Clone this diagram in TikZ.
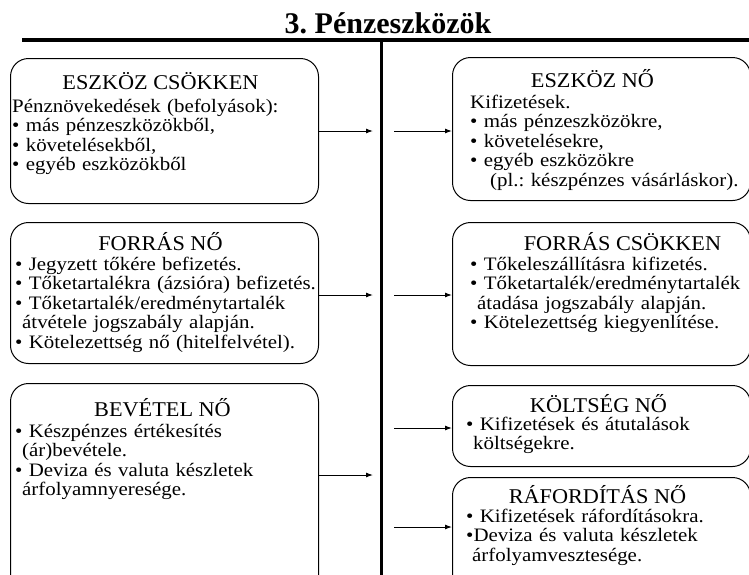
\documentclass[tikz,border=0pt]{standalone}
\usepackage{fontspec}
\setmainfont{Liberation Serif}
\newfontfamily\torzsfont{Liberation Serif}[FakeStretch=1.1]
\newfontfamily\fejfont{Liberation Serif}[FakeStretch=1.06]
\usetikzlibrary{positioning,arrows.meta}
\frenchspacing
\tikzset{keret/.style={draw, rounded corners=18pt, line width=1pt, anchor=north west, inner sep=0pt},
  fejlec/.style={anchor=base, inner sep=0pt, font=\fejfont\fontsize{21}{24}\selectfont},
  torzs/.style={inner sep=0pt, align=left, text width=330pt, font=\torzsfont\fontsize{19}{19.5}\selectfont},
  nyil/.style={-{Latex[length=7pt,width=5pt]}, line width=1pt},}

\begin{document}
\begin{tikzpicture}[x=1pt,y=-1pt]
        \useasboundingbox (0,0) rectangle (749,574);
        \clip (0,0) rectangle (749,574);
        % Title and rules
        \node[anchor=base, inner sep=0pt, font=\bfseries\fontsize{30}{36}\selectfont] (cim) at (388,33) {3. Pénzeszközök};
        \coordinate (felso bal) at (22,40);
        \coordinate (felso jobb) at (749,40);
        \coordinate (also) at (381,580);
        \draw[line width=3.5pt] (felso bal) -- (felso jobb);
        \draw[line width=3pt] (also |- felso bal) -- (also);
        % Left boxes
        \node[keret, minimum width=308pt, minimum height=145pt] (eszkcsokk) at (10,58) {};
        \node[keret, minimum width=308pt, minimum height=141pt] (forrno) at (10,222) {};
        \node[keret, minimum width=308pt, minimum height=220pt] (bevno) at (10,383) {};
        % Right boxes
        \node[keret, minimum width=298pt, minimum height=143pt] (eszkno) at (452,57) {};
        \node[keret, minimum width=298pt, minimum height=143pt] (forrcsokk) at (452,222) {};
        \node[keret, minimum width=298pt, minimum height=81pt] (koltno) at (452,385) {};
        \node[keret, minimum width=298pt, minimum height=130pt] (raforno) at (452,477) {};
        % Headings
        \node[fejlec] (h1) at ([xshift=-4pt,yshift=-31pt]eszkcsokk.north) {ESZKÖZ CSÖKKEN};
        \node[fejlec] (h2) at ([xshift=-4pt,yshift=-28pt]forrno.north) {FORRÁS NŐ};
        \node[fejlec] (h3) at ([xshift=-2pt,yshift=-33pt]bevno.north) {BEVÉTEL NŐ};
        \node[fejlec] (h4) at ([xshift=-9pt,yshift=-30pt]eszkno.north) {ESZKÖZ NŐ};
        \node[fejlec] (h5) at ([xshift=21pt,yshift=-28pt]forrcsokk.north) {FORRÁS CSÖKKEN};
        \node[fejlec] (h6) at ([xshift=-3pt,yshift=-27pt]koltno.north) {KÖLTSÉG NŐ};
        \node[fejlec] (h7) at ([xshift=-4pt,yshift=-26pt]raforno.north) {RÁFORDÍTÁS NŐ};
        % Texts
        \node[torzs, below right=40.4pt and 2pt of eszkcsokk.north west] (t1) {\strut Pénznövekedések (befolyások):\\
          • más pénzeszközökből,\\ • követelésekből,\\ • egyéb eszközökből};
        \node[torzs, below right=34.4pt and 5pt of forrno.north west] (t2) {\strut • Jegyzett tőkére befizetés.\\
          • Tőketartalékra (ázsióra) befizetés.\\ • Tőketartalék/eredménytartalék\\
          \hspace*{7pt}átvétele jogszabály alapján.\\ • Kötelezettség nő (hitelfelvétel).};
        \node[torzs, below right=40.4pt and 5pt of bevno.north west] (t3) {\strut • Készpénzes értékesítés\\
          \hspace*{7pt}(ár)bevétele.\\ • Deviza és valuta készletek\\ \hspace*{7pt}árfolyamnyeresége.};
        \node[torzs, below right=37.4pt and 18pt of eszkno.north west] (t4) {\strut Kifizetések.\\
          • más pénzeszközökre,\\ • követelésekre,\\ • egyéb eszközökre\\
          \hspace*{20pt}(pl.: készpénzes vásárláskor).};
        \node[torzs, below right=34.4pt and 18pt of forrcsokk.north west] (t5) {\strut • Tőkeleszállításra kifizetés.\\
          • Tőketartalék/eredménytartalék\\ \hspace*{7pt}átadása jogszabály alapján.\\
          • Kötelezettség kiegyenlítése.};
        \node[torzs, below right=31.4pt and 14pt of koltno.north west] (t6) {\strut • Kifizetések és átutalások\\
          \hspace*{7pt}költségekre.};
        \node[torzs, below right=31.4pt and 14pt of raforno.north west] (t7) {\strut • Kifizetések ráfordításokra.\\
          •Deviza és valuta készletek\\ \hspace*{6pt}árfolyamvesztesége.};
        % Arrows
        \coordinate (b1) at (373,131);
        \coordinate (b2) at (373,295);
        \coordinate (b3) at (373,475);
        \coordinate (j1) at (394,131);
        \coordinate (j2) at (394,295);
        \coordinate (j3) at (394,428);
        \coordinate (j4) at (394,527);
        \draw[nyil] (eszkcsokk.east |- b1) -- (b1);
        \draw[nyil] (forrno.east |- b2) -- (b2);
        \draw[nyil] (bevno.east |- b3) -- (b3);
        \draw[nyil] (j1) -- (j1 -| eszkno.west);
        \draw[nyil] (j2) -- (j2 -| forrcsokk.west);
        \draw[nyil] (j3) -- (j3 -| koltno.west);
        \draw[nyil] (j4) -- (j4 -| raforno.west);
\end{tikzpicture}
\end{document}
